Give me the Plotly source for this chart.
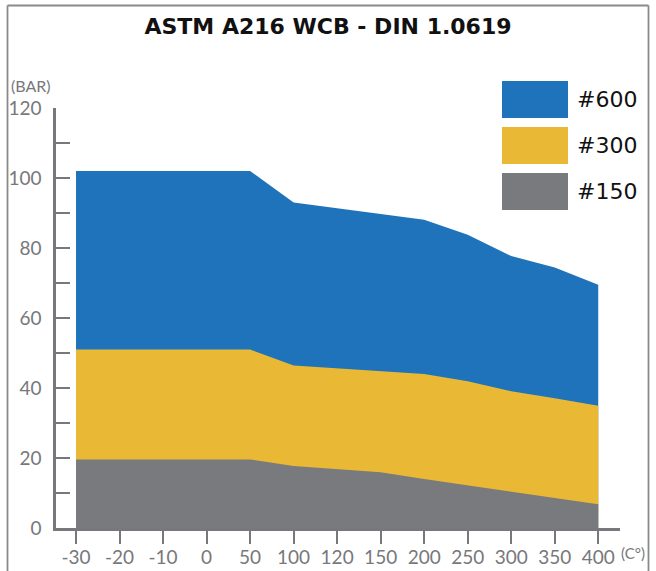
import plotly.graph_objects as go

# ---- data ----
temps = ["-30", "-20", "-10", "0", "50", "100", "120", "150", "200", "250", "300", "350", "400"]
class_600 = [102, 102, 102, 102, 102, 93, 91.4, 89.7, 88.1, 83.8, 77.7, 74.4, 69.5]
class_300 = [51, 51, 51, 51, 51, 46.4, 45.6, 44.9, 44.0, 41.9, 39.1, 37.1, 34.9]
class_150 = [19.6, 19.6, 19.6, 19.6, 19.6, 17.7, 16.7, 15.9, 14.0, 12.2, 10.3, 8.6, 6.8]
series_names = ["#600", "#300", "#150"]
colors = ["#1e73bb", "#e9b936", "#797a7e"]
y_ticks = list(range(0, 121, 10))
y_ticktext = [str(v) if v % 20 == 0 else "" for v in y_ticks]

FONT = "Lato"
GREY = "#77787b"

fig = go.Figure()
for name, vals, col in zip(series_names, [class_600, class_300, class_150], colors):
    fig.add_trace(go.Scatter(
        x=temps, y=vals, name=name, mode="lines",
        line=dict(width=0, color=col), fill="tozeroy", fillcolor=col,
        showlegend=False, hoverinfo="x+y+name"))

L, R, T, B = 56, 36, 108, 43
W, H = 656, 571
pw, ph = W - L - R, H - T - B

def px(x):
    return (x - L) / pw

def py(y):
    return (H - B - y) / ph

shapes = []
annotations = []
# frame
fc = "#8a8a8a"
for x0, y0, x1, y1 in [(7.5, 5.5, 648.5, 5.5), (7.5, 5.5, 7.5, 571), (648.5, 5.5, 648.5, 571)]:
    shapes.append(dict(type="line", xref="paper", yref="paper",
                       x0=px(x0), y0=py(y0), x1=px(x1), y1=py(y1),
                       line=dict(color=fc, width=1.8), layer="above"))
# legend boxes
box_y = [(81, 118), (127, 164), (173, 210)]
for (ya, yb), name, col in zip(box_y, series_names, colors):
    shapes.append(dict(type="rect", xref="paper", yref="paper",
                       x0=px(502), x1=px(568), y0=py(yb), y1=py(ya),
                       fillcolor=col, line=dict(width=0), layer="above"))
    annotations.append(dict(text=name, xref="paper", yref="paper",
                            x=px(575), y=py((ya + yb) / 2), xanchor="left", yanchor="middle",
                            showarrow=False, font=dict(family="DejaVu Sans", size=22, color="#111111")))
# unit labels
annotations.append(dict(text="(BAR)", xref="paper", yref="paper", x=px(9), y=py(86),
                        xanchor="left", yanchor="middle", showarrow=False,
                        font=dict(family=FONT, size=16, color=GREY)))
annotations.append(dict(text="(C°)", xref="paper", yref="paper", x=px(619), y=py(553),
                        xanchor="left", yanchor="middle", showarrow=False,
                        font=dict(family=FONT, size=15, color=GREY)))

fig.update_layout(
    width=W, height=H,
    margin=dict(l=L, r=R, t=T, b=B, autoexpand=False),
    paper_bgcolor="white", plot_bgcolor="white",
    title=dict(text="<b>ASTM A216 WCB - DIN 1.0619</b>", x=0.5, xanchor="center",
               y=1 - 26 / H, yanchor="middle",
               font=dict(family="DejaVu Sans", size=22, color="#111111")),
    shapes=shapes, annotations=annotations,
    xaxis=dict(type="category", range=[-0.46, 12.5], showgrid=False, zeroline=False,
               showline=True, linecolor=GREY, linewidth=2.5,
               ticks="outside", ticklen=13, tickwidth=2, tickcolor=GREY,
               ticklabelstandoff=-3,
               tickfont=dict(family=FONT, size=19, color=GREY)),
    yaxis=dict(range=[0, 120], showgrid=False, zeroline=False,
               showline=True, linecolor=GREY, linewidth=2.5,
               tickvals=y_ticks, ticktext=y_ticktext,
               ticks="inside", ticklen=14, tickwidth=2, tickcolor=GREY,
               ticklabelstandoff=8,
               tickfont=dict(family=FONT, size=19, color=GREY)),
)

fig.write_html("out.html", config={"displayModeBar": False},
               post_script="document.body.style.margin='0';document.body.style.padding='0';")
